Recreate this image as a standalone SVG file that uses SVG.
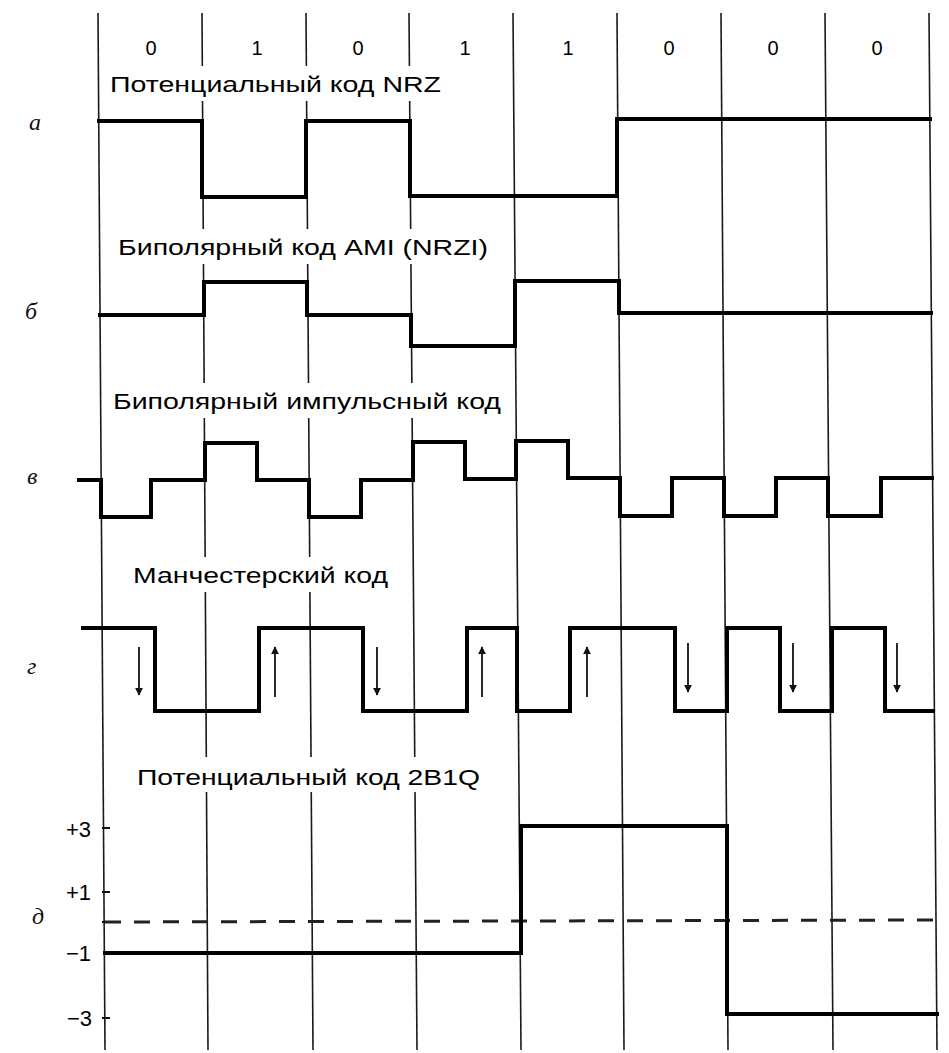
<svg xmlns="http://www.w3.org/2000/svg" width="949" height="1053" viewBox="0 0 949 1053">
<style>
.grid{stroke:#1a1a1a;stroke-width:1.6;fill:none}
.sig{stroke:#000;stroke-width:4;fill:none;stroke-linejoin:miter;stroke-linecap:square}
.lbl{font-family:"Liberation Sans",Arial,sans-serif;font-size:22px;fill:#000}
.bit{font-family:"Liberation Sans",Arial,sans-serif;font-size:20px;fill:#000;text-anchor:middle}
.row{font-family:"Liberation Serif","Times New Roman",serif;font-style:italic;font-size:24px;fill:#111}
.lvl{font-family:"Liberation Sans",Arial,sans-serif;font-size:22px;fill:#000;text-anchor:end}
.arr{stroke:#111;stroke-width:1.8;fill:none}
.tick{stroke:#111;stroke-width:2}
.bg{fill:#fff}
</style>
<defs>
<marker id="ah" viewBox="0 0 10 10" refX="9" refY="5" markerWidth="8" markerHeight="8" markerUnits="userSpaceOnUse" orient="auto">
<path d="M0,0 L10,5 L0,10 z" fill="#111"/>
</marker>
</defs>
<rect width="949" height="1053" fill="#fff"/>
<g id="grid">
<line class="grid" x1="98" y1="13" x2="105" y2="1050"/>
<line class="grid" x1="202" y1="13" x2="208" y2="1050"/>
<line class="grid" x1="306" y1="13" x2="313" y2="1050"/>
<line class="grid" x1="409" y1="13" x2="417" y2="1050"/>
<line class="grid" x1="513" y1="13" x2="521" y2="1050"/>
<line class="grid" x1="617" y1="13" x2="624" y2="1050"/>
<line class="grid" x1="721" y1="13" x2="728" y2="1050"/>
<line class="grid" x1="825" y1="13" x2="833" y2="1050"/>
<line class="grid" x1="929" y1="13" x2="937" y2="1050"/>
</g>
<g id="bits">
<text class="bit" x="151" y="55">0</text>
<text class="bit" x="257" y="55">1</text>
<text class="bit" x="358" y="55">0</text>
<text class="bit" x="465" y="55">1</text>
<text class="bit" x="568" y="55">1</text>
<text class="bit" x="669" y="55">0</text>
<text class="bit" x="773" y="55">0</text>
<text class="bit" x="877" y="55">0</text>
</g>
<g id="titles">
<rect class="bg" x="106" y="66" width="340" height="35"/>
<text class="lbl" x="110" y="92" textLength="331" lengthAdjust="spacingAndGlyphs">Потенциальный код NRZ</text>
<rect class="bg" x="114" y="229" width="378" height="35"/>
<text class="lbl" x="118" y="255" textLength="370" lengthAdjust="spacingAndGlyphs">Биполярный код AMI (NRZI)</text>
<rect class="bg" x="109" y="383" width="398" height="35"/>
<text class="lbl" x="113" y="409" textLength="388" lengthAdjust="spacingAndGlyphs">Биполярный импульсный код</text>
<rect class="bg" x="129" y="557" width="263" height="35"/>
<text class="lbl" x="133" y="583" textLength="255" lengthAdjust="spacingAndGlyphs">Манчестерский код</text>
<rect class="bg" x="133" y="757" width="351" height="35"/>
<text class="lbl" x="137" y="785" textLength="343" lengthAdjust="spacingAndGlyphs">Потенциальный код 2B1Q</text>
</g>
<g id="row-labels">
<text class="row" x="29" y="130">а</text>
<text class="row" x="25" y="319">б</text>
<text class="row" x="27" y="484">в</text>
<text class="row" x="27" y="674">г</text>
<text class="row" x="32" y="924">д</text>
</g>
<g id="signal-nrz">
<path class="sig" d="M99,121 H202 V197 H306 V121 H410 V196 H617 V119 H930"/>
</g>
<g id="signal-ami">
<path class="sig" d="M100,315 H204 V282 H307 V315 H411 V346 H515 V281 H619 V313 H931"/>
</g>
<g id="signal-bipolar-pulse">
<path class="sig" d="M79,480 H101 V517 H151 V480 H205 V443 H257 V480 H309 V517 H361 V480 H413 V442 H465 V479 H516 V441 H568 V478 H620 V516 H672 V478 H724 V516 H776 V478 H828 V516 H881 V478 H932"/>
</g>
<g id="signal-manchester">
<path class="sig" d="M83,628 H155 V711 H259 V628 H363 V711 H467 V628 H517 V711 H570 V628 H675 V711 H727 V628 H780 V711 H832 V628 H885 V711 H933"/>
</g>
<g id="manchester-arrows">
<line class="arr" x1="139" y1="647" x2="139" y2="695" marker-end="url(#ah)"/>
<line class="arr" x1="275" y1="697" x2="275" y2="647" marker-end="url(#ah)"/>
<line class="arr" x1="377" y1="647" x2="377" y2="695" marker-end="url(#ah)"/>
<line class="arr" x1="482" y1="697" x2="482" y2="647" marker-end="url(#ah)"/>
<line class="arr" x1="587" y1="697" x2="587" y2="647" marker-end="url(#ah)"/>
<line class="arr" x1="688" y1="643" x2="688" y2="692" marker-end="url(#ah)"/>
<line class="arr" x1="793" y1="643" x2="793" y2="692" marker-end="url(#ah)"/>
<line class="arr" x1="897" y1="643" x2="897" y2="692" marker-end="url(#ah)"/>
</g>
<g id="axis-2b1q">
<line class="tick" x1="102" y1="828" x2="110" y2="828"/>
<line class="tick" x1="102" y1="892" x2="110" y2="892"/>
<line class="tick" x1="102" y1="922" x2="110" y2="922"/>
<line class="tick" x1="102" y1="1018" x2="110" y2="1018"/>
<text class="lvl" x="91" y="837">+3</text>
<text class="lvl" x="91" y="900">+1</text>
<text class="lvl" x="91" y="961">−1</text>
<text class="lvl" x="92" y="1026">−3</text>
<line x1="105" y1="922" x2="937" y2="920" stroke="#222" stroke-width="3" stroke-dasharray="16 13"/>
</g>
<g id="signal-2b1q">
<path class="sig" d="M105,953 H521 V826 H727 V1014 H937"/>
</g>
</svg>
